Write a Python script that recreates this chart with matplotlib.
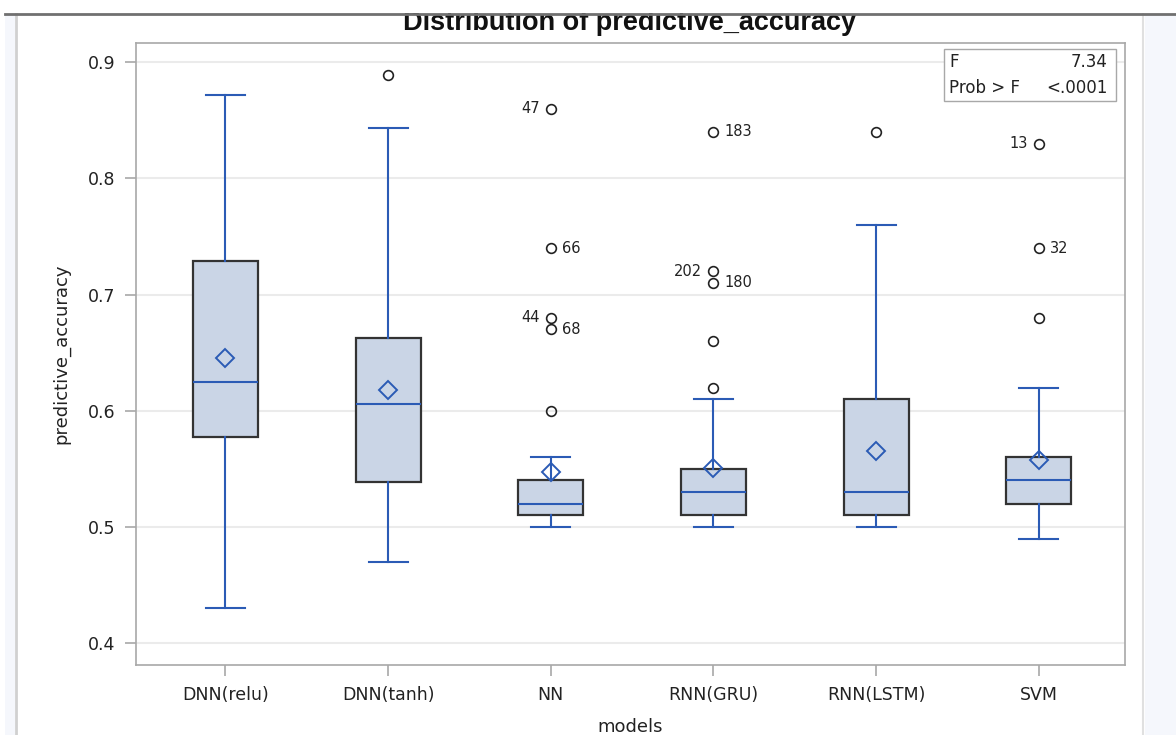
import matplotlib
matplotlib.use("Agg")
import matplotlib.pyplot as plt
from matplotlib.patches import Rectangle
from matplotlib.lines import Line2D

plt.rcParams['font.family'] = ['DejaVu Sans']

models = ["DNN(relu)", "DNN(tanh)", "NN", "RNN(GRU)", "RNN(LSTM)", "SVM"]
whislo = [0.43, 0.47, 0.50, 0.50, 0.50, 0.49]
q1 = [0.577, 0.539, 0.51, 0.51, 0.51, 0.52]
med = [0.625, 0.606, 0.52, 0.53, 0.53, 0.54]
q3 = [0.729, 0.663, 0.54, 0.55, 0.61, 0.56]
whishi = [0.872, 0.843, 0.56, 0.61, 0.76, 0.62]
means = [0.645, 0.618, 0.547, 0.551, 0.565, 0.558]
outliers = [
    [],
    [0.889],
    [0.60, 0.67, 0.68, 0.74, 0.86],
    [0.62, 0.66, 0.71, 0.72, 0.84],
    [0.84],
    [0.68, 0.74, 0.83],
]
# labelled outliers: (model index, value, label, side)
out_labels = [
    (2, 0.86, "47", "left"),
    (2, 0.74, "66", "right"),
    (2, 0.68, "44", "left"),
    (2, 0.67, "68", "right"),
    (3, 0.84, "183", "right"),
    (3, 0.72, "202", "left"),
    (3, 0.71, "180", "right"),
    (5, 0.83, "13", "left"),
    (5, 0.74, "32", "right"),
]
yticks = [0.4, 0.5, 0.6, 0.7, 0.8, 0.9]
f_value = "7.34"
p_value = "<.0001"

W, H = 1176, 735
fig = plt.figure(figsize=(W / 100, H / 100), dpi=100)
fig.patch.set_facecolor("white")

# screenshot frame decorations
fig.patches.append(Rectangle((5 / W, 0), 10 / W, 1 - 14 / H, transform=fig.transFigure,
                             facecolor="#F5F7FC", edgecolor="none", zorder=0))
fig.patches.append(Rectangle((1145 / W, 0), 31 / W, 1 - 14 / H, transform=fig.transFigure,
                             facecolor="#F5F7FC", edgecolor="none", zorder=0))
fig.lines.append(Line2D([16 / W, 16 / W], [0, 1 - 14 / H], transform=fig.transFigure,
                        color="#D0D0D0", lw=2))
fig.lines.append(Line2D([1143 / W, 1143 / W], [0, 1 - 14 / H], transform=fig.transFigure,
                        color="#E0E0E0", lw=1.5))

ax = fig.add_axes([136 / W, 1 - 665 / H, (1125 - 136) / W, (665 - 43) / H])

stats = []
for i in range(len(models)):
    stats.append(dict(label=models[i], whislo=whislo[i], q1=q1[i], med=med[i], q3=q3[i],
                      whishi=whishi[i], mean=means[i], fliers=outliers[i]))

blue = "#2B5BB5"
ax.bxp(stats, positions=list(range(len(models))), widths=0.4, patch_artist=True,
       showmeans=True, showfliers=True,
       boxprops=dict(facecolor="#CAD5E6", edgecolor="#333333", linewidth=1.6),
       medianprops=dict(color=blue, linewidth=1.5),
       whiskerprops=dict(color=blue, linewidth=1.5),
       capprops=dict(color=blue, linewidth=1.5),
       capwidths=0.24,
       meanprops=dict(marker="D", markerfacecolor="none", markeredgecolor=blue,
                      markersize=9, markeredgewidth=1.4),
       flierprops=dict(marker="o", markerfacecolor="none", markeredgecolor="#222222",
                       markersize=7, markeredgewidth=1.2),
       zorder=3)

for (i, v, lab, side) in out_labels:
    if side == "right":
        ax.annotate(lab, (i, v), xytext=(8, 0), textcoords="offset points",
                    ha="left", va="center", fontsize=10.5, color="#222222")
    else:
        ax.annotate(lab, (i, v), xytext=(-8, 0), textcoords="offset points",
                    ha="right", va="center", fontsize=10.5, color="#222222")

ax.set_xlim(-0.55, 5.53)
ax.set_ylim(0.3812, 0.9165)
ax.set_yticks(yticks)
ax.set_yticklabels([f"{t:.1f}" for t in yticks])
ax.set_xticks(range(len(models)))
ax.set_xticklabels(models)
ax.grid(axis="y", color="#EBEBEB", linewidth=1.5, zorder=0)
ax.set_axisbelow(True)
for s in ax.spines.values():
    s.set_color("#A8A8A8")
    s.set_linewidth(1.2)
ax.tick_params(axis="both", colors="#A8A8A8", labelcolor="#222222", labelsize=12.5,
               length=8, width=1.2, pad=7)
ax.set_ylabel("predictive_accuracy", fontsize=13, color="#222222", labelpad=12)
ax.set_xlabel("models", fontsize=13, color="#222222", labelpad=10)

# statistics inset
ax.add_patch(Rectangle((0.817, 0.906), 0.174, 0.084, transform=ax.transAxes,
                       facecolor="white", edgecolor="#A8A8A8", lw=1, zorder=5))
ax.text(0.822, 0.969, "F", transform=ax.transAxes, ha="left", va="center",
        fontsize=12, color="#222222", zorder=6)
ax.text(0.982, 0.969, f_value, transform=ax.transAxes, ha="right", va="center",
        fontsize=12, color="#222222", zorder=6)
ax.text(0.822, 0.927, "Prob > F", transform=ax.transAxes, ha="left", va="center",
        fontsize=12, color="#222222", zorder=6)
ax.text(0.982, 0.927, p_value, transform=ax.transAxes, ha="right", va="center",
        fontsize=12, color="#222222", zorder=6)

# title (partially cut by the screenshot edge)
fig.text(630 / W, 1 - 30 / H, "Distribution of predictive_accuracy", ha="center",
         va="baseline", fontsize=19.5, fontweight="bold", color="#111111",
         family=["Liberation Sans", "DejaVu Sans"])
fig.patches.append(Rectangle((0, 1 - 13 / H), 1, 13 / H, transform=fig.transFigure,
                             facecolor="white", edgecolor="none", zorder=10))
fig.lines.append(Line2D([5 / W, 1], [1 - 13.5 / H, 1 - 13.5 / H], transform=fig.transFigure,
                        color="#707070", lw=2, zorder=11))

fig.savefig("out.png", dpi=100)
